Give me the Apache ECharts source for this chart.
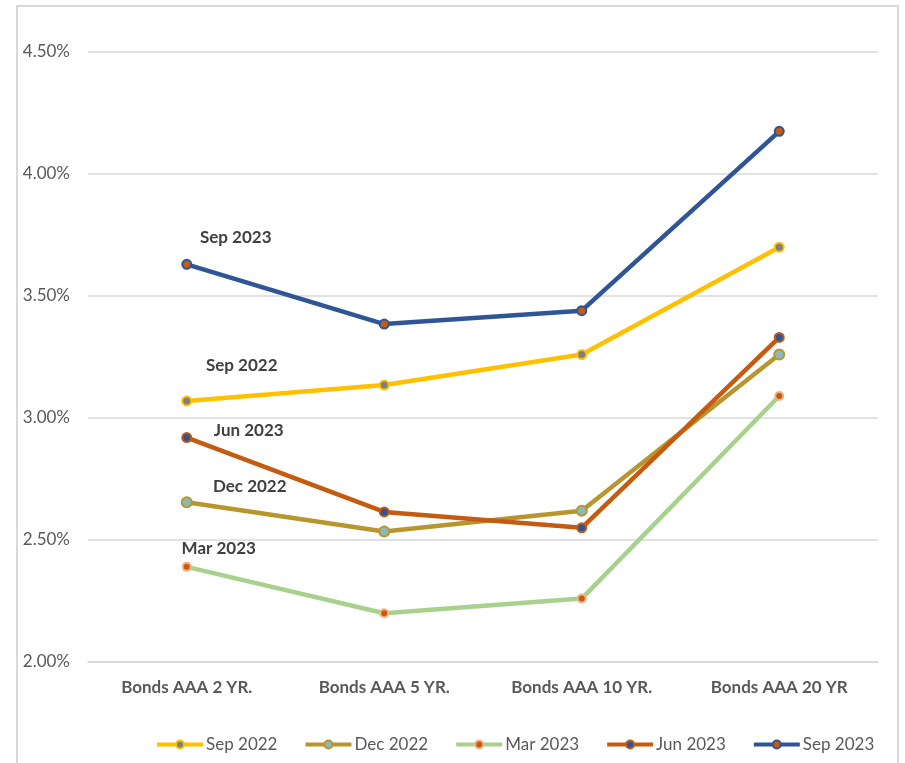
<!DOCTYPE html>
<html>
<head>
<meta charset="utf-8">
<script src="https://cdn.jsdelivr.net/npm/echarts@6/dist/echarts.min.js"></script>
<style>
html,body{margin:0;padding:0;background:#fff;}
#frame{position:absolute;left:16px;top:5px;width:883px;height:770px;border:2px solid #D9D9D9;border-bottom:none;box-sizing:border-box;}
#chart{position:absolute;left:0;top:0;width:905px;height:763px;}
</style>
</head>
<body>
<div id="frame"></div>
<div id="chart"></div>
<script>
const categories = ['Bonds AAA 2 YR.', 'Bonds AAA 5 YR.', 'Bonds AAA 10 YR.', 'Bonds AAA 20 YR'];
const sep2022 = [3.07, 3.135, 3.26, 3.70];
const dec2022 = [2.655, 2.535, 2.62, 3.26];
const mar2023 = [2.39, 2.20, 2.26, 3.09];
const jun2023 = [2.92, 2.615, 2.55, 3.33];
const sep2023 = [3.63, 3.385, 3.44, 4.175];
const seriesNames = ['Sep 2022', 'Dec 2022', 'Mar 2023', 'Jun 2023', 'Sep 2023'];
const yTicks = { min: 2.0, max: 4.5, interval: 0.5 };

const FONT = 'Lato';
const styles = [
  { line: '#FFC000', fill: '#7F7F7F', border: '#FFC000', size: 9, off: [55, -35] },
  { line: '#B8962E', fill: '#8FB8B3', border: '#B8962E', size: 10, off: [63, -16] },
  { line: '#A9D18E', fill: '#C55A11', border: '#F4B183', size: 8, off: [32, -18] },
  { line: '#C55A11', fill: '#2F5597', border: '#C55A11', size: 9, off: [62, -7] },
  { line: '#2F5597', fill: '#C55A11', border: '#2F5597', size: 9, off: [49, -27] }
];
const values = [sep2022, dec2022, mar2023, jun2023, sep2023];

const series = values.map((vals, i) => {
  const s = styles[i];
  return {
    name: seriesNames[i],
    type: 'line',
    data: vals.map((v, j) => j === 0 ? {
      value: v,
      label: {
        show: true,
        position: 'inside',
        offset: s.off,
        formatter: seriesNames[i],
        fontFamily: FONT,
        fontWeight: 'bold',
        fontSize: 17,
        color: '#404040'
      }
    } : v),
    symbol: 'circle',
    symbolSize: s.size,
    showSymbol: true,
    lineStyle: { color: s.line, width: 4.5 },
    itemStyle: { color: s.fill, borderColor: s.border, borderWidth: 2 },
    emphasis: { disabled: true },
    animation: false,
    z: 2 + i
  };
});

const chart = echarts.init(document.getElementById('chart'), null, { renderer: 'canvas' });
chart.setOption({
  backgroundColor: 'transparent',
  animation: false,
  grid: { left: 88, right: 27, top: 52, bottom: 101, containLabel: false },
  legend: {
    bottom: 10,
    left: 155,
    padding: 0,
    itemWidth: 46,
    itemHeight: 10,
    itemGap: 26,
    lineStyle: { width: 4 },
    textStyle: { fontFamily: FONT, fontSize: 17, color: '#595959', padding: [0, 0, 0, -2] },
    data: seriesNames
  },
  xAxis: {
    type: 'category',
    data: categories,
    boundaryGap: true,
    axisLine: { show: true, lineStyle: { color: '#D9D9D9', width: 1.5 } },
    axisTick: { show: false },
    axisLabel: { fontFamily: FONT, fontSize: 17, fontWeight: 'bold', color: '#595959', margin: 17 }
  },
  yAxis: {
    type: 'value',
    min: yTicks.min,
    max: yTicks.max,
    interval: yTicks.interval,
    axisLine: { show: false },
    axisTick: { show: false },
    splitLine: { lineStyle: { color: '#D9D9D9', width: 1.5 } },
    axisLabel: {
      fontFamily: FONT, fontSize: 17, color: '#595959', margin: 18, align: 'right',
      formatter: v => v.toFixed(2) + '%'
    }
  },
  series: series
});
</script>
</body>
</html>
